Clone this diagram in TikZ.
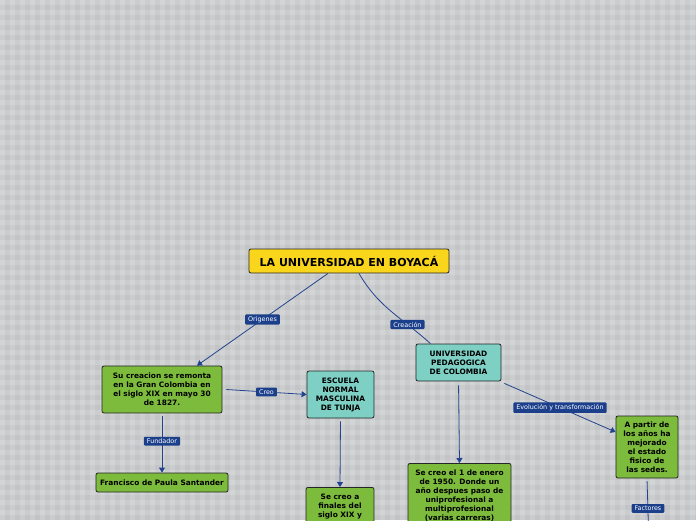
\documentclass[tikz,border=0pt]{standalone}
\usepackage{fontspec}
\setmainfont{DejaVu Sans}
\usetikzlibrary{arrows.meta}

\definecolor{titleyellow}{HTML}{F9D51B}
\definecolor{leafgreen}{HTML}{7CBB3C}
\definecolor{seateal}{HTML}{7ECFC4}
\definecolor{linkblue}{HTML}{22448F}
\definecolor{tagblue}{HTML}{1B3F8B}
\definecolor{paper}{HTML}{D3D4D6}

\tikzset{
  box/.style={draw=black!85, line width=0.8pt, rounded corners=2pt, align=center,
    inner sep=0pt, font=\fontsize{7.4}{9}\selectfont\bfseries},
  maintopic/.style={box, fill=titleyellow, minimum width=200, minimum height=24,
    font=\fontsize{11}{13}\selectfont\bfseries},
  greenbox/.style={box, fill=leafgreen},
  tealbox/.style={box, fill=seateal},
  tag/.style={fill=tagblue, text=white, rounded corners=1pt, inner xsep=3pt,
    inner ysep=2pt, font=\fontsize{6.4}{7}\selectfont},
  link/.style={draw=linkblue, line width=0.8pt, -{Triangle[width=6pt,length=5pt]}}
}

\begin{document}
\begin{tikzpicture}[x=1pt,y=-1pt]
\useasboundingbox (0,0) rectangle (696,520);
\clip (0,0) rectangle (696,520);
\fill[paper] (0,0) rectangle (696,520);
\foreach \i in {5,15,...,695}
  \fill[black, opacity=0.035] (\i,0) rectangle (\i+5,520);
\foreach \j in {5,15,...,515}
  \fill[black, opacity=0.035] (0,\j) rectangle (696,\j+5);

% nodes
\node[maintopic] (title) at (349,261) {LA UNIVERSIDAD EN BOYACÁ};

\node[greenbox, minimum width=120, minimum height=47] (orig) at (162,389.5)
  {Su creacion se remonta\\en la Gran Colombia en\\el siglo XIX en mayo 30\\de 1827.};
\node[tealbox, minimum width=67, minimum height=47] (escuela) at (340.5,394.5)
  {ESCUELA\\NORMAL\\MASCULINA\\DE TUNJA};
\node[greenbox, minimum width=132, minimum height=19] (santander) at (162,482.5)
  {Francisco de Paula Santander};
\node[greenbox, minimum width=68, anchor=north] (finales) at (340,487)
  {\rule{0pt}{12pt}Se creo a\\finales del\\siglo XIX y\\\phantom{x}\\\phantom{x}\\\phantom{x}};

\node[tealbox, minimum width=85, minimum height=37] (upn) at (458.5,362.5)
  {UNIVERSIDAD\\PEDAGOGICA\\DE COLOMBIA};
\node[greenbox, minimum width=103, anchor=north] (enero) at (459.5,463)
  {\rule{0pt}{12pt}Se creo el 1 de enero\\de 1950. Donde un\\año despues paso de\\uniprofesional a\\multiprofesional\\(varias carreras)\\\phantom{x}\\\phantom{x}};
\node[greenbox, minimum width=62, minimum height=62] (sedes) at (647,447)
  {A partir de\\los años ha\\mejorado\\el estado\\fisico de\\las sedes.};
\coordinate (factores) at (649,545);

% connectors
\draw[link] ([xshift=-21]title.south) -- node[tag, pos=0.5] {Origenes} ([xshift=35]orig.north);
\draw[draw=linkblue, line width=0.8pt] ([xshift=10]title.south) to[out=-60, in=138]
  node[tag, pos=0.72] {Creación} ([xshift=-28]upn.north);
\draw[link] ([xshift=4]orig.east) -- node[tag] {Creo} (escuela.west);
\draw[link, shorten <=3pt] (orig.south) -- node[tag, pos=0.47] {Fundador} (santander.north);
\draw[link, shorten <=3pt] (escuela.south) -- (finales.north);
\draw[link, shorten <=4pt] (upn.south) -- (enero.north);
\draw[link] ([xshift=3,yshift=-2]upn.south east) -- node[tag] {Evolución y transformación} ([yshift=15]sedes.west);
\draw[draw=linkblue, line width=0.8pt, shorten <=3pt] (sedes.south) -- node[tag, pos=0.45] {Factores} (factores);
\end{tikzpicture}
\end{document}
